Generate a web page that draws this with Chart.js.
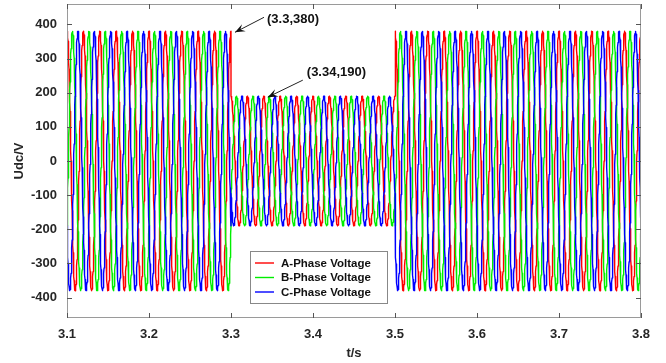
<!DOCTYPE html>
<html lang="en">
  <head>
    <meta charset="UTF-8" />
    <title>Three-phase voltage</title>
    <script src="https://cdn.jsdelivr.net/npm/chart.js"></script>
    <style>
      html, body { margin: 0; padding: 0; background: #fff; }
      #wrap { width: 666px; height: 363px; }
    </style>
  </head>
  <body>
    <div id="wrap"><canvas id="myChart"></canvas></div>
  </body>
  <script>
    // time segments (s) and peak voltage in each segment
    const segStart = [3.1, 3.3, 3.5];
    const segEnd = [3.3, 3.5, 3.8];
    const segAmp = [380, 190, 380];
    const freq = 50; // Hz
    const samplesPerCycle = 80;

    // phases: name, colour, shift in degrees
    const phaseNames = ["A-Phase Voltage", "B-Phase Voltage", "C-Phase Voltage"];
    const phaseColors = ["#ff0000", "#00ee00", "#0000ff"];
    const phaseShift = [0, -120, 120];

    const xTicks = [3.1, 3.2, 3.3, 3.4, 3.5, 3.6, 3.7, 3.8];
    const yTicks = [-400, -300, -200, -100, 0, 100, 200, 300, 400];

    // annotated points
    const notes = [
      { x: 3.3, y: 380, text: "(3.3,380)" },
      { x: 3.34, y: 190, text: "(3.34,190)" },
    ];

    function phaseData(shiftDeg) {
      const pts = [];
      const dt = 1 / freq / samplesPerCycle;
      for (let s = 0; s < segStart.length; s++) {
        const n = Math.round((segEnd[s] - segStart[s]) / dt);
        for (let i = 0; i <= n; i++) {
          const t = segStart[s] + i * dt;
          const v = segAmp[s] * Math.cos(2 * Math.PI * freq * t + (shiftDeg * Math.PI) / 180);
          pts.push({ x: t, y: v });
        }
      }
      return pts;
    }

    const datasets = phaseNames.map((name, i) => ({
      label: name,
      data: phaseData(phaseShift[i]),
      borderColor: phaseColors[i],
      borderWidth: 1.4,
      borderJoinStyle: "round",
      borderCapStyle: "round",
      pointRadius: 0,
      tension: 0,
      order: 3 - i,
    }));

    const tickFont = { family: "'Liberation Sans', Arial, sans-serif", size: 13, weight: "bold" };

    // frame, inward ticks, legend box and arrows
    const extras = {
      id: "extras",
      afterDatasetsDraw(chart) {
        const { ctx, chartArea: a, scales } = chart;
        const sx = scales.x, sy = scales.y;
        ctx.save();
        ctx.strokeStyle = "#9a9a9a";
        ctx.lineWidth = 1;
        ctx.strokeRect(a.left + 0.5, a.top + 0.5, a.right - a.left - 1, a.bottom - a.top - 1);

        ctx.strokeStyle = "#555";
        const tl = 5;
        xTicks.forEach((v) => {
          const px = Math.round(sx.getPixelForValue(v)) + 0.5;
          ctx.beginPath();
          ctx.moveTo(px, a.bottom); ctx.lineTo(px, a.bottom - tl);
          ctx.moveTo(px, a.top); ctx.lineTo(px, a.top + tl);
          ctx.stroke();
        });
        yTicks.forEach((v) => {
          const py = Math.round(sy.getPixelForValue(v)) + 0.5;
          ctx.beginPath();
          ctx.moveTo(a.left, py); ctx.lineTo(a.left + tl, py);
          ctx.moveTo(a.right, py); ctx.lineTo(a.right - tl, py);
          ctx.stroke();
        });

        // annotations
        const offs = [
          { tx: 29, ty: -15, lx: 32, ly: -13 },
          { tx: 35, ty: -17, lx: 39, ly: -25 },
        ];
        ctx.font = "bold 13px 'Liberation Sans', Arial, sans-serif";
        ctx.textBaseline = "middle";
        notes.forEach((n, i) => {
          const px = sx.getPixelForValue(n.x) + 4;
          const py = sy.getPixelForValue(n.y) + 1;
          const o = offs[i];
          const ex = px + o.tx, ey = py + o.ty;
          ctx.strokeStyle = "#222";
          ctx.lineWidth = 1;
          ctx.beginPath();
          ctx.moveTo(ex, ey); ctx.lineTo(px, py);
          ctx.stroke();
          const ang = Math.atan2(ey - py, ex - px);
          const hl = 10, hw = 4;
          ctx.fillStyle = "#111";
          ctx.beginPath();
          ctx.moveTo(px, py);
          ctx.lineTo(px + hl * Math.cos(ang) - hw * Math.sin(ang), py + hl * Math.sin(ang) + hw * Math.cos(ang));
          ctx.lineTo(px + hl * 0.6 * Math.cos(ang), py + hl * 0.6 * Math.sin(ang));
          ctx.lineTo(px + hl * Math.cos(ang) + hw * Math.sin(ang), py + hl * Math.sin(ang) - hw * Math.cos(ang));
          ctx.closePath();
          ctx.fill();
          ctx.textAlign = "left";
          ctx.fillText(n.text, px + o.lx, py + o.ly);
        });

        // legend box
        const lx = 250, ly = 251, lw = 137, lh = 52;
        ctx.fillStyle = "#fff";
        ctx.fillRect(lx, ly, lw, lh);
        ctx.strokeStyle = "#888";
        ctx.lineWidth = 1;
        ctx.strokeRect(lx + 0.5, ly + 0.5, lw, lh);
        ctx.font = "bold 11.5px 'Liberation Sans', Arial, sans-serif";
        phaseNames.forEach((name, i) => {
          const yy = ly + 12 + i * 14.5;
          ctx.strokeStyle = phaseColors[i];
          ctx.lineWidth = 1.4;
          ctx.beginPath();
          ctx.moveTo(lx + 5, yy); ctx.lineTo(lx + 24, yy);
          ctx.stroke();
          ctx.fillStyle = "#111";
          ctx.fillText(name, lx + 31, yy + 0.5);
        });
        ctx.restore();
      },
    };

    const ctx = document.querySelector("#myChart");
    new Chart(ctx, {
      type: "line",
      data: { datasets },
      options: {
        responsive: true,
        maintainAspectRatio: false,
        animation: false,
        parsing: false,
        normalized: true,
        layout: { padding: { top: 4, right: 25, left: 12, bottom: 2 } },
        plugins: { legend: { display: false }, tooltip: { enabled: false } },
        scales: {
          x: {
            type: "linear",
            min: 3.1,
            max: 3.8,
            afterBuildTicks: (s) => { s.ticks = xTicks.map((v) => ({ value: v })); },
            afterFit: (s) => { s.height = 43; },
            grid: { display: false },
            border: { display: false },
            ticks: { font: tickFont, color: "#262626", padding: 1, maxRotation: 0, callback: (v) => v.toFixed(1) },
            title: { display: true, text: "t/s", font: tickFont, color: "#262626", padding: { top: 0, bottom: 0 } },
          },
          y: {
            min: -460,
            max: 460,
            afterBuildTicks: (s) => { s.ticks = yTicks.map((v) => ({ value: v })); },
            afterFit: (s) => { s.width = 55; s.paddingTop = 0; s.paddingBottom = 0; },
            grid: { display: false },
            border: { display: false },
            ticks: { font: tickFont, color: "#262626", padding: 2 },
            title: { display: true, text: "Udc/V", font: tickFont, color: "#262626", padding: { top: 0, bottom: 0 } },
          },
        },
      },
      plugins: [extras],
    });
  </script>
</html>
